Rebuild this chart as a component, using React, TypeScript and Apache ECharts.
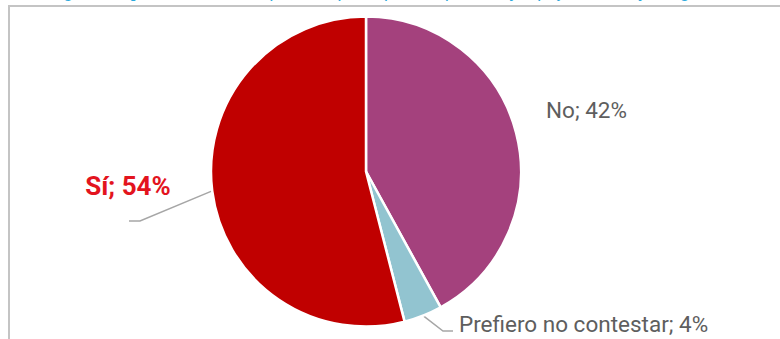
import React, { useEffect, useRef } from "react";
import * as echarts from "echarts";

const categories = ["No", "Prefiero no contestar", "Sí"];
const values = [42, 4, 54];
const colors = ["#A4417D", "#92C4D0", "#C00000"];
const titleText =
  "Figura 35. ¿Usted considera que la empresa para la que trabaja apoya su trabajo de grado?";

export default function App() {
  const ref = useRef<HTMLDivElement>(null);
  useEffect(() => {
    document.body.style.margin = "0";
    const chart = echarts.init(ref.current!, null, { renderer: "svg" });
    const labelSpots: any[] = [
      { x: 546, y: 110, align: "left" },
      { x: 459, y: 324, align: "left", elbow: [443, 331], end: [453, 331] },
      { x: 128, y: 186, align: "center", elbow: [140, 221], end: [129, 221] },
    ];
    chart.setOption({
      animation: false,
      backgroundColor: "#ffffff",
      graphic: [
        {
          type: "text",
          left: 50,
          top: -17,
          style: {
            text: titleText,
            fill: "#2AA8DC",
            font: "17px Roboto",
          },
        },
        {
          type: "rect",
          shape: { x: 9, y: 6, width: 820, height: 400 },
          style: { fill: "none", stroke: "#C4C4C4", lineWidth: 2 },
          silent: true,
        },
      ],
      series: [
        {
          type: "pie",
          center: [366, 171.5],
          radius: [0, 155],
          startAngle: 90,
          clockwise: true,
          avoidLabelOverlap: false,
          itemStyle: { borderColor: "#ffffff", borderWidth: 2.5 },
          label: {
            show: true,
            position: "outside",
            formatter: "{b}; {c}%",
            fontFamily: "Roboto",
            fontSize: 22.5,
            color: "#5E5E5E",
          },
          labelLine: {
            show: true,
            lineStyle: { color: "#A6A6A6", width: 1.5 },
          },
          labelLayout: (params: any) => {
            const s = labelSpots[params.dataIndex];
            const out: any = {
              x: s.x,
              y: s.y,
              align: s.align,
              verticalAlign: "middle",
            };
            if (s.elbow && params.labelLinePoints) {
              out.labelLinePoints = [params.labelLinePoints[0], s.elbow, s.end];
            }
            return out;
          },
          data: categories.map((name, i) => {
            const item: any = {
              name,
              value: values[i],
              itemStyle: { color: colors[i] },
            };
            if (i === 0) item.labelLine = { show: false };
            if (i === 2)
              item.label = {
                color: "#E3141E",
                fontWeight: "bold",
                fontSize: 26,
              };
            return item;
          }),
        },
      ],
    });
    return () => chart.dispose();
  }, []);
  return <div ref={ref} style={{ width: 780, height: 339 }} />;
}
